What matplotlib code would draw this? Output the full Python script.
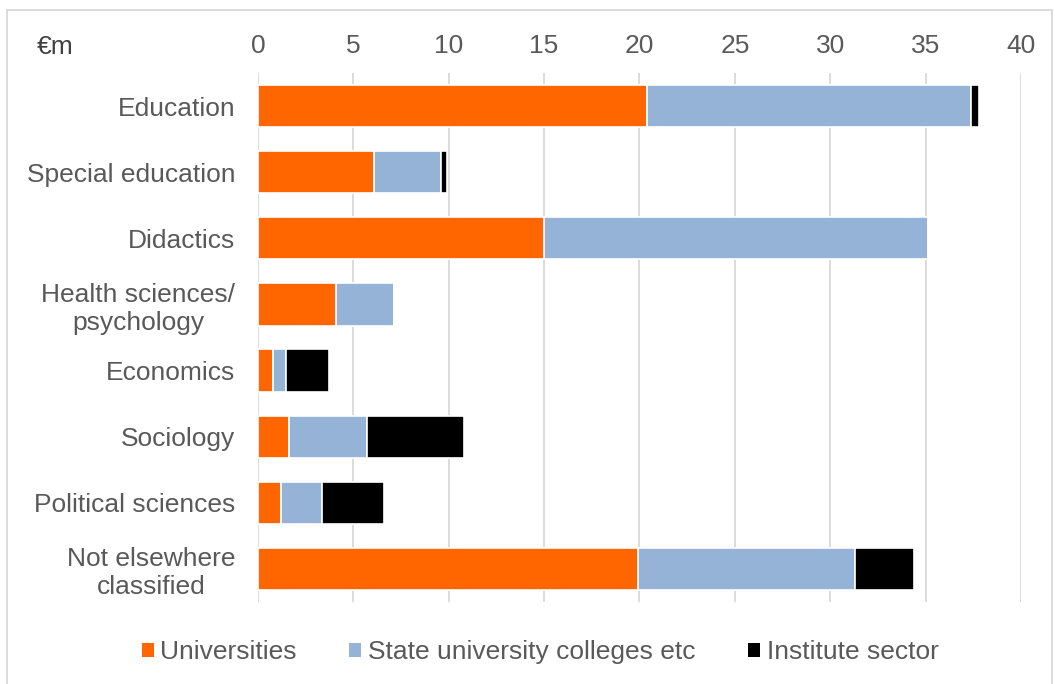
import numpy as np
import matplotlib.pyplot as plt
from matplotlib.patches import Rectangle, Patch

plt.rcParams['font.family'] = ['Liberation Sans', 'DejaVu Sans']

categories = ['Education', 'Special education', 'Didactics', 'Health sciences/\npsychology',
              'Economics', 'Sociology', 'Political sciences', 'Not elsewhere\nclassified']
universities = [20.4, 6.1, 15.0, 4.1, 0.8, 1.65, 1.2, 19.9]
state_colleges = [17.0, 3.5, 20.1, 3.05, 0.65, 4.05, 2.15, 11.4]
institutes = [0.4, 0.3, 0.0, 0.0, 2.25, 5.1, 3.25, 3.1]
series_names = ['Universities', 'State university colleges etc', 'Institute sector']
colors = ['#FF6600', '#95B3D7', '#000000']
xticks = [0, 5, 10, 15, 20, 25, 30, 35, 40]

fig = plt.figure(figsize=(10.55, 6.84), dpi=100)
ax = fig.add_axes([0.2445, 0.1199, 0.7233, 0.7734])

y = np.arange(len(categories))
left = np.zeros(len(categories))
for vals, col in zip([universities, state_colleges, institutes], colors):
    vals = np.array(vals)
    ax.barh(y, vals, left=left, height=0.64, color=col, edgecolor='white', linewidth=1.2, zorder=3)
    left += vals

ax.set_ylim(len(categories) - 0.5, -0.5)
ax.set_xlim(0, 40)
ax.set_xticks(xticks)
ax.xaxis.tick_top()
ax.tick_params(axis='x', length=0, pad=11, labelsize=19, labelcolor='#595959')
ax.tick_params(axis='y', length=0, pad=16.5, labelsize=19, labelcolor='#595959')
ax.set_yticks(y)
ax.set_yticklabels(categories, linespacing=1.2)
for lbl in ax.get_yticklabels():
    lbl.set_multialignment('center')
ax.grid(axis='x', color='#D9D9D9', linewidth=1.3, zorder=0)
for s in ax.spines.values():
    s.set_visible(False)

fig.text(37 / 1055, 1 - 47 / 684, '€m', fontsize=19, color='#404040', va='center', ha='left')

handles = [Patch(facecolor=c, edgecolor='none') for c in colors]
fig.legend(handles, series_names, loc='center', bbox_to_anchor=(0.512, 1 - 652 / 684),
           ncol=3, frameon=False, fontsize=19, labelcolor='#595959',
           handlelength=0.45, handleheight=0.45, handletextpad=0.25, columnspacing=2.0)

fig.patches.append(Rectangle((7 / 1055, -0.05), 1045 / 1055, 1.05 - 10 / 684,
                             transform=fig.transFigure, fill=False, edgecolor='#D9D9D9', linewidth=1.3))

fig.savefig('out.png', dpi=100)
